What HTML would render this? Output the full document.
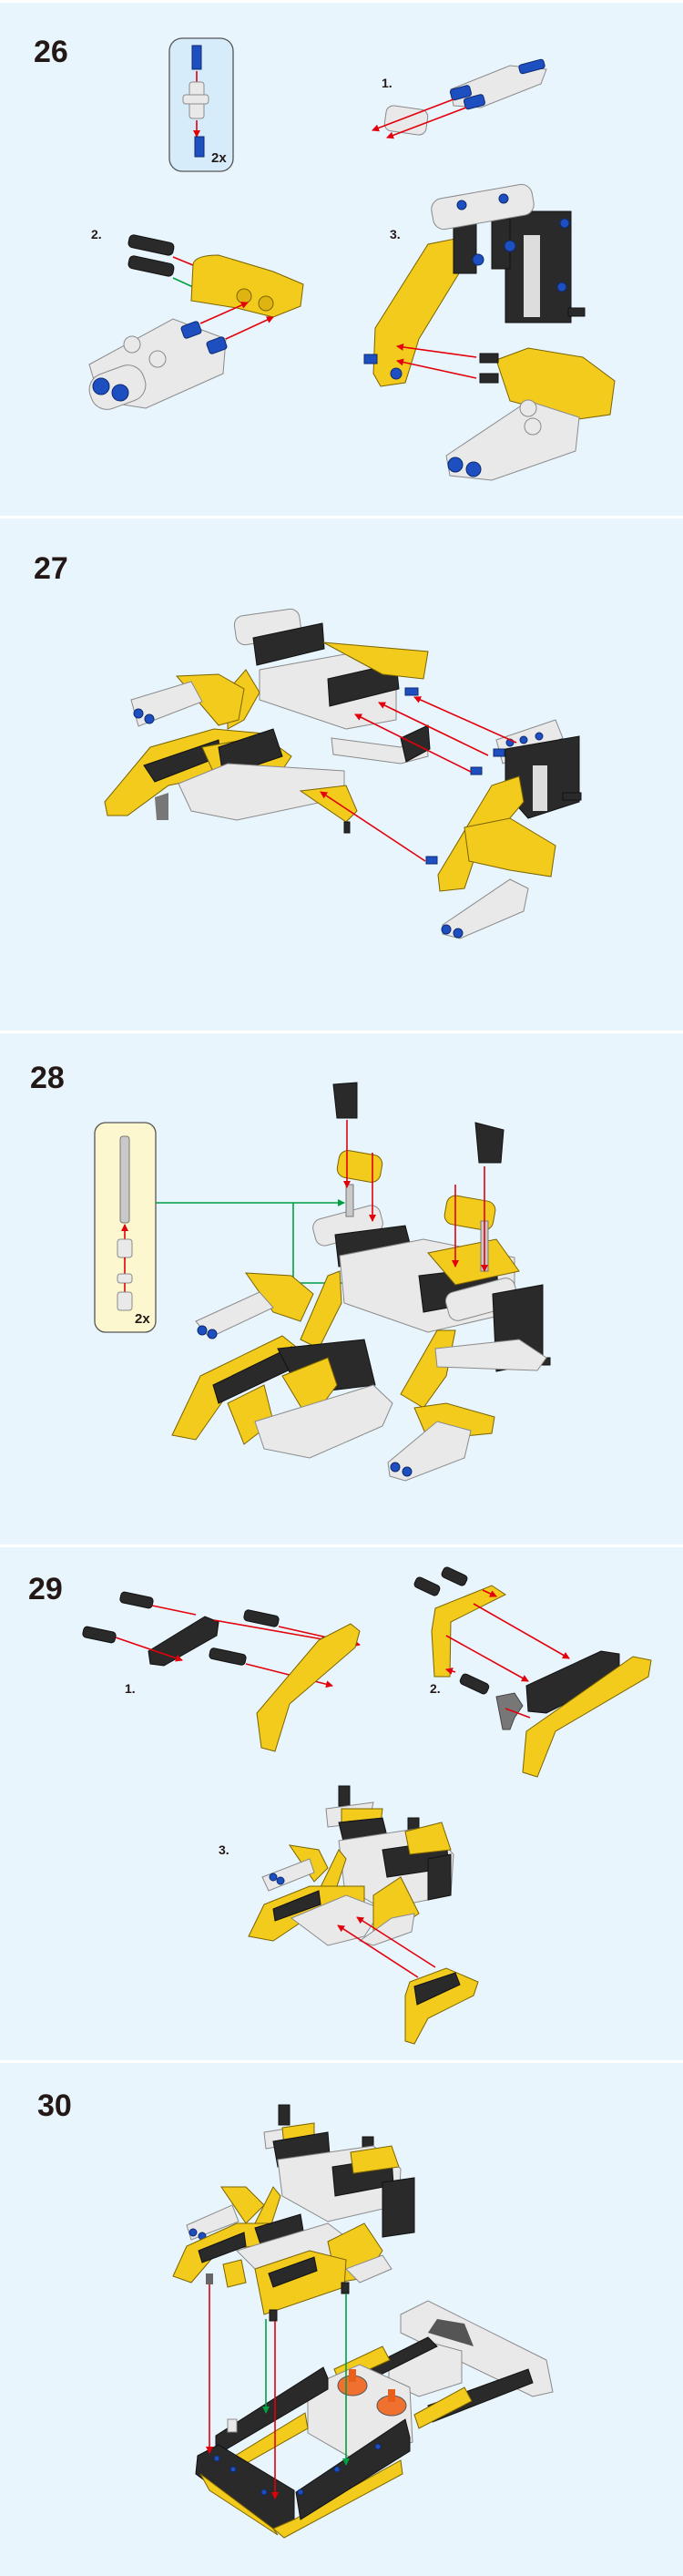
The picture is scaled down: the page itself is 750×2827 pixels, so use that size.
<!DOCTYPE html>
<html><head><meta charset="utf-8"><style>
html,body{margin:0;padding:0;background:#e9f5fd}
svg{display:block}
text{font-family:"Liberation Sans",sans-serif;font-weight:bold;fill:#231815}
.y{fill:#f2cb1d;stroke:#7a6400;stroke-width:1}
.k{fill:#2a2a2a;stroke:#111;stroke-width:1}
.w{fill:#e9e9e9;stroke:#8a8a8a;stroke-width:1}
.g{fill:#c9c9c9;stroke:#777;stroke-width:1}
.b{fill:#1e4fc0;stroke:#0d2a70;stroke-width:1}
.r{stroke:#e3000b;stroke-width:1.6;fill:none}
.gr{stroke:#00a040;stroke-width:1.6;fill:none}
</style></head><body>
<svg width="750" height="2827" viewBox="0 0 750 2827" xmlns="http://www.w3.org/2000/svg">
<defs>
<marker id="ar" markerWidth="8" markerHeight="8" refX="7" refY="4" orient="auto" markerUnits="userSpaceOnUse"><path d="M0,0 L8,4 L0,8z" fill="#e3000b"/></marker>
<marker id="ag" markerWidth="8" markerHeight="8" refX="7" refY="4" orient="auto" markerUnits="userSpaceOnUse"><path d="M0,0 L8,4 L0,8z" fill="#00a040"/></marker>
</defs>
<rect width="750" height="2827" fill="#e9f5fd"/>
<rect y="0" width="750" height="3" fill="#fff"/>
<rect y="566" width="750" height="3" fill="#fff"/>
<rect y="1131" width="750" height="3" fill="#fff"/>
<rect y="1695" width="750" height="3" fill="#fff"/>
<rect y="2261" width="750" height="3" fill="#fff"/>

<!-- STEP 26 -->
<text x="37" y="68" font-size="34">26</text>
<rect x="186" y="42" width="70" height="146" rx="14" fill="#d6ecfa" stroke="#555" stroke-width="1.3"/>
<rect x="211" y="50" width="10" height="26" class="b"/>
<line x1="216" y1="78" x2="216" y2="90" class="r"/>
<rect x="208" y="90" width="16" height="40" rx="3" class="w"/>
<rect x="201" y="104" width="28" height="10" rx="3" class="w"/>
<line x1="216" y1="132" x2="216" y2="150" class="r" marker-end="url(#ar)"/>
<rect x="214" y="150" width="10" height="22" class="b"/>
<text x="232" y="178" font-size="15">2x</text>

<text x="419" y="96" font-size="14">1.</text>
<rect x="423" y="118" width="46" height="28" rx="8" class="w" transform="rotate(8 446 132)"/>
<polygon points="495,98 560,72 600,76 594,92 528,118 498,116" class="w"/>
<rect x="495" y="96" width="22" height="12" rx="3" class="b" transform="rotate(-15 505 102)"/>
<rect x="510" y="106" width="22" height="12" rx="3" class="b" transform="rotate(-15 520 112)"/>
<rect x="570" y="68" width="28" height="10" rx="3" class="b" transform="rotate(-15 584 73)"/>
<line x1="498" y1="109" x2="409" y2="143" class="r" marker-end="url(#ar)"/>
<line x1="512" y1="118" x2="425" y2="151" class="r" marker-end="url(#ar)"/>

<text x="100" y="262" font-size="14">2.</text>
<rect x="141" y="262" width="50" height="14" rx="5" class="k" transform="rotate(12 166 269)"/>
<rect x="141" y="285" width="50" height="14" rx="5" class="k" transform="rotate(12 166 292)"/>
<line x1="190" y1="282" x2="212" y2="291" class="r"/>
<line x1="190" y1="305" x2="245" y2="330" class="gr" marker-end="url(#ag)"/>
<path d="M212,290 Q214,280 240,280 L300,298 L333,312 L330,336 L300,348 L260,338 L210,330 Z" class="y"/>
<circle cx="268" cy="325" r="8" fill="#e0b410" stroke="#7a6400"/>
<circle cx="292" cy="333" r="8" fill="#e0b410" stroke="#7a6400"/>
<path d="M98,400 L190,350 L248,372 L245,410 L160,448 L110,440 Z" class="w"/>
<rect x="98" y="405" width="62" height="40" rx="18" class="w" transform="rotate(-20 129 425)"/>
<circle cx="111" cy="424" r="9" class="b"/><circle cx="132" cy="431" r="9" class="b"/>
<circle cx="145" cy="378" r="9" class="w"/><circle cx="173" cy="394" r="9" class="w"/>
<rect x="200" y="355" width="20" height="14" rx="3" class="b" transform="rotate(-20 210 362)"/>
<rect x="228" y="372" width="20" height="14" rx="3" class="b" transform="rotate(-20 238 379)"/>
<line x1="220" y1="355" x2="272" y2="332" class="r" marker-end="url(#ar)"/>
<line x1="248" y1="372" x2="300" y2="348" class="r" marker-end="url(#ar)"/>

<text x="428" y="262" font-size="14">3.</text>
<path d="M412,360 L470,268 L500,262 L515,282 L460,372 L445,420 L418,424 L410,410 Z" class="y"/>
<rect x="555" y="232" width="72" height="122" class="k"/>
<rect x="575" y="258" width="18" height="90" fill="#ddd"/>
<rect x="498" y="240" width="25" height="60" class="k"/>
<rect x="540" y="240" width="20" height="55" class="k"/>
<rect x="474" y="210" width="112" height="34" rx="12" class="w" transform="rotate(-10 530 227)"/>
<circle cx="507" cy="225" r="5" class="b"/><circle cx="553" cy="218" r="5" class="b"/>
<circle cx="525" cy="285" r="6" class="b"/><circle cx="560" cy="270" r="6" class="b"/>
<circle cx="620" cy="245" r="5" class="b"/><circle cx="617" cy="315" r="5" class="b"/>
<rect x="624" y="338" width="18" height="9" class="k"/>
<path d="M545,395 L580,382 L640,392 L675,418 L670,455 L635,460 L560,440 Z" class="y"/>
<rect x="527" y="388" width="20" height="10" class="k"/><rect x="527" y="410" width="20" height="10" class="k"/>
<path d="M490,500 L580,440 L636,458 L632,495 L540,527 L494,522 Z" class="w"/>
<circle cx="500" cy="510" r="8" class="b"/><circle cx="520" cy="515" r="8" class="b"/>
<circle cx="580" cy="448" r="9" class="w"/><circle cx="585" cy="468" r="9" class="w"/>
<line x1="523" y1="392" x2="436" y2="380" class="r" marker-end="url(#ar)"/>
<line x1="523" y1="415" x2="436" y2="396" class="r" marker-end="url(#ar)"/>
<circle cx="435" cy="410" r="6" class="b"/><rect x="400" y="389" width="14" height="10" class="b"/>

<!-- STEP 27 -->
<text x="37" y="635" font-size="34">27</text>
<rect x="258" y="672" width="72" height="32" rx="10" class="w" transform="rotate(-8 294 688)"/>
<path d="M278,700 L354,684 L356,712 L282,730 Z" class="k"/>
<path d="M285,735 L395,715 L435,740 L435,790 L380,800 L285,768 Z" class="w"/>
<path d="M360,745 L435,728 L438,756 L362,775 Z" class="k"/>
<path d="M355,705 L470,715 L465,745 L420,740 Z" class="y"/>
<path d="M250,758 L270,735 L285,760 L268,790 L250,800 Z" class="y"/>
<path d="M194,742 L240,740 L268,756 L262,790 L240,796 Z" class="y"/>
<path d="M144,768 L210,748 L222,770 L152,797 Z" class="w"/>
<circle cx="152" cy="783" r="5" class="b"/><circle cx="164" cy="789" r="5" class="b"/>
<path d="M115,880 L165,820 L235,800 L290,805 L290,840 L185,862 L140,895 L118,895 Z" class="y"/>
<path d="M158,840 L240,812 L242,830 L170,858 Z" class="k"/>
<path d="M222,820 L290,808 L320,830 L300,860 L240,860 Z" class="y"/>
<path d="M240,820 L300,800 L310,830 L245,852 Z" class="k"/>
<path d="M196,860 L250,838 L378,846 L378,875 L260,900 L210,890 Z" class="w"/>
<path d="M330,868 L380,862 L392,890 L380,902 Z" class="y"/>
<rect x="378" y="902" width="6" height="12" class="k"/>
<path d="M170,875 L185,870 L185,900 L172,900 Z" fill="#777"/>
<path d="M364,810 L440,820 L468,800 L470,830 L440,838 L366,828 Z" class="w"/>
<path d="M440,810 L470,796 L472,822 L446,836 Z" class="k"/>
<path d="M545,812 L610,790 L618,810 L552,838 Z" class="w"/>
<path d="M555,822 L636,808 L636,880 L580,898 L555,870 Z" class="k"/>
<rect x="585" y="840" width="16" height="50" fill="#ddd"/>
<rect x="618" y="870" width="20" height="8" class="k"/>
<path d="M481,960 L540,862 L570,852 L575,880 L520,945 L510,975 L483,978 Z" class="y"/>
<path d="M510,908 L560,898 L610,928 L605,962 L560,955 L515,945 Z" class="y"/>
<path d="M486,1015 L560,965 L580,975 L575,1000 L505,1030 L486,1025 Z" class="w"/>
<circle cx="490" cy="1020" r="5" class="b"/><circle cx="503" cy="1024" r="5" class="b"/>
<circle cx="560" cy="815" r="4" class="b"/><circle cx="575" cy="812" r="4" class="b"/><circle cx="592" cy="808" r="4" class="b"/>
<rect x="445" y="755" width="14" height="8" class="b"/><rect x="542" y="822" width="12" height="8" class="b"/><rect x="517" y="842" width="12" height="8" class="b"/><rect x="468" y="940" width="12" height="8" class="b"/>
<line x1="567" y1="815" x2="455" y2="765" class="r" marker-end="url(#ar)"/>
<line x1="536" y1="829" x2="416" y2="771" class="r" marker-end="url(#ar)"/>
<line x1="517" y1="847" x2="390" y2="784" class="r" marker-end="url(#ar)"/>
<line x1="467" y1="945" x2="352" y2="869" class="r" marker-end="url(#ar)"/>

<!-- STEP 28 -->
<text x="33" y="1194" font-size="34">28</text>
<rect x="104" y="1232" width="67" height="230" rx="12" fill="#fdf7cf" stroke="#555" stroke-width="1.3"/>
<rect x="132" y="1247" width="10" height="95" rx="3" class="g"/>
<line x1="137" y1="1382" x2="137" y2="1344" class="r" marker-end="url(#ar)"/>
<rect x="129" y="1360" width="16" height="20" rx="3" class="w"/>
<line x1="137" y1="1380" x2="137" y2="1400" class="r"/>
<rect x="129" y="1398" width="16" height="10" rx="3" class="w"/>
<line x1="137" y1="1408" x2="137" y2="1418" class="r"/>
<rect x="129" y="1418" width="16" height="20" rx="3" class="w"/>
<text x="148" y="1452" font-size="15">2x</text>
<polyline points="171,1320 378,1320" class="gr" marker-end="url(#ag)"/>
<polyline points="322,1320 322,1408 526,1408" class="gr" marker-end="url(#ag)"/>
<path d="M366,1190 L392,1188 L392,1227 L370,1227 Z" class="k"/>
<rect x="371" y="1265" width="48" height="30" rx="10" class="y" transform="rotate(10 395 1280)"/>
<path d="M522,1232 L553,1240 L550,1276 L526,1276 Z" class="k"/>
<rect x="489" y="1315" width="54" height="32" rx="10" class="y" transform="rotate(10 516 1331)"/>
<rect x="344" y="1330" width="76" height="30" rx="10" class="w" transform="rotate(-15 382 1345)"/>
<path d="M368,1355 L445,1345 L452,1372 L372,1390 Z" class="k"/>
<path d="M373,1378 L465,1360 L565,1380 L565,1440 L470,1462 L378,1430 Z" class="w"/>
<path d="M460,1400 L545,1390 L548,1425 L465,1440 Z" class="k"/>
<path d="M470,1375 L545,1360 L570,1395 L500,1410 Z" class="y"/>
<rect x="490" y="1410" width="78" height="32" rx="10" class="w" transform="rotate(-15 529 1426)"/>
<path d="M541,1420 L596,1410 L596,1495 L545,1505 Z" class="k"/>
<rect x="590" y="1490" width="14" height="8" class="k"/>
<rect x="380" y="1300" width="8" height="35" class="g"/><rect x="528" y="1340" width="8" height="55" class="g"/>
<path d="M270,1397 L320,1400 L344,1420 L330,1450 L300,1440 Z" class="y"/>
<path d="M215,1450 L285,1418 L300,1435 L230,1468 Z" class="w"/>
<circle cx="222" cy="1460" r="5" class="b"/><circle cx="233" cy="1464" r="5" class="b"/>
<path d="M330,1470 L360,1400 L373,1395 L375,1430 L350,1480 Z" class="y"/>
<path d="M189,1575 L220,1510 L310,1466 L325,1478 L325,1500 L250,1530 L215,1580 Z" class="y"/>
<path d="M234,1520 L320,1478 L325,1500 L240,1540 Z" class="k"/>
<path d="M250,1540 L290,1520 L300,1560 L268,1585 Z" class="y"/>
<path d="M305,1480 L400,1470 L412,1520 L330,1530 Z" class="k"/>
<path d="M310,1510 L360,1490 L370,1520 L340,1560 Z" class="y"/>
<path d="M280,1560 L410,1520 L431,1540 L420,1565 L340,1600 L290,1590 Z" class="w"/>
<path d="M440,1530 L480,1460 L500,1460 L490,1510 L465,1545 Z" class="y"/>
<path d="M455,1545 L490,1540 L543,1555 L540,1573 L470,1580 Z" class="y"/>
<path d="M426,1605 L480,1560 L517,1570 L510,1600 L445,1625 L428,1620 Z" class="w"/>
<circle cx="434" cy="1610" r="5" class="b"/><circle cx="447" cy="1615" r="5" class="b"/>
<path d="M478,1480 L570,1470 L600,1490 L590,1504 L480,1500 Z" class="w"/>
<line x1="381" y1="1229" x2="381" y2="1303" class="r" marker-end="url(#ar)"/>
<line x1="409" y1="1265" x2="409" y2="1340" class="r" marker-end="url(#ar)"/>
<line x1="500" y1="1300" x2="500" y2="1390" class="r" marker-end="url(#ar)"/>
<line x1="532" y1="1280" x2="532" y2="1395" class="r" marker-end="url(#ar)"/>

<!-- STEP 29 -->
<text x="31" y="1755" font-size="34">29</text>
<rect x="132" y="1750" width="36" height="12" rx="4" class="k" transform="rotate(12 150 1756)"/>
<rect x="268" y="1770" width="38" height="12" rx="4" class="k" transform="rotate(12 287 1776)"/>
<rect x="91" y="1788" width="36" height="12" rx="4" class="k" transform="rotate(12 109 1794)"/>
<rect x="230" y="1812" width="40" height="12" rx="4" class="k" transform="rotate(12 250 1818)"/>
<path d="M163,1812 L225,1774 L240,1780 L238,1795 L180,1828 L165,1826 Z" class="k"/>
<line x1="167" y1="1762" x2="215" y2="1772" class="r"/>
<line x1="235" y1="1778" x2="360" y2="1800" class="r" marker-end="url(#ar)"/>
<line x1="306" y1="1785" x2="395" y2="1805" class="r" marker-end="url(#ar)"/>
<line x1="127" y1="1797" x2="200" y2="1822" class="r" marker-end="url(#ar)"/>
<line x1="270" y1="1826" x2="365" y2="1850" class="r" marker-end="url(#ar)"/>
<path d="M287,1918 L282,1880 L350,1800 L385,1782 L395,1790 L390,1808 L318,1870 L302,1922 Z" class="y"/>
<text x="137" y="1858" font-size="14">1.</text>

<rect x="455" y="1735" width="28" height="12" rx="4" class="k" transform="rotate(25 469 1741)"/>
<rect x="485" y="1724" width="28" height="12" rx="4" class="k" transform="rotate(25 499 1730)"/>
<path d="M474,1790 L478,1765 L540,1740 L555,1750 L495,1780 L494,1840 L477,1840 Z" class="y"/>
<line x1="490" y1="1795" x2="580" y2="1845" class="r" marker-end="url(#ar)"/>
<line x1="520" y1="1760" x2="625" y2="1820" class="r" marker-end="url(#ar)"/>
<line x1="530" y1="1745" x2="545" y2="1752" class="r" marker-end="url(#ar)"/>
<path d="M578,1850 L660,1812 L680,1815 L680,1840 L600,1880 L580,1878 Z" class="k"/>
<path d="M574,1945 L578,1900 L695,1818 L715,1822 L712,1840 L610,1900 L590,1950 Z" class="y"/>
<rect x="505" y="1842" width="32" height="12" rx="4" class="k" transform="rotate(25 521 1848)"/>
<line x1="500" y1="1835" x2="490" y2="1832" class="r" marker-end="url(#ar)"/>
<path d="M545,1862 L565,1858 L574,1872 L565,1885 L560,1898 L552,1898 Z" fill="#777" stroke="#444"/>
<line x1="555" y1="1875" x2="582" y2="1885" class="r"/>
<text x="472" y="1858" font-size="14">2.</text>

<text x="240" y="2035" font-size="14">3.</text>
<rect x="372" y="1960" width="12" height="22" class="k"/>
<rect x="448" y="1995" width="12" height="20" class="k"/>
<path d="M358,1985 L410,1978 L405,2000 L360,2005 Z" class="w"/>
<path d="M375,1985 L420,1985 L418,2002 L375,2010 Z" class="y"/>
<path d="M372,2000 L420,1995 L425,2015 L378,2025 Z" class="k"/>
<path d="M372,2020 L470,2005 L498,2035 L495,2080 L420,2095 L378,2070 Z" class="w"/>
<path d="M420,2030 L490,2020 L493,2050 L425,2060 Z" class="k"/>
<path d="M445,2010 L485,2000 L495,2030 L450,2035 Z" class="y"/>
<path d="M470,2040 L495,2035 L495,2080 L470,2085 Z" class="k"/>
<path d="M318,2025 L350,2030 L360,2050 L345,2065 Z" class="y"/>
<path d="M288,2060 L340,2040 L345,2055 L295,2075 Z" class="w"/>
<path d="M350,2075 L372,2030 L380,2040 L365,2085 Z" class="y"/>
<path d="M273,2125 L290,2090 L340,2070 L400,2070 L400,2100 L330,2110 L300,2130 Z" class="y"/>
<path d="M300,2095 L350,2075 L352,2090 L302,2108 Z" class="k"/>
<path d="M320,2105 L380,2080 L420,2095 L400,2125 L360,2135 Z" class="w"/>
<path d="M410,2080 L440,2060 L460,2100 L430,2120 L410,2120 Z" class="y"/>
<path d="M395,2130 L430,2105 L455,2100 L452,2120 L410,2135 Z" class="w"/>
<circle cx="300" cy="2060" r="4" class="b"/><circle cx="308" cy="2064" r="4" class="b"/>
<line x1="459" y1="2170" x2="371" y2="2113" class="r" marker-end="url(#ar)"/>
<line x1="478" y1="2159" x2="392" y2="2104" class="r" marker-end="url(#ar)"/>
<path d="M445,2190 L450,2175 L490,2160 L525,2175 L520,2190 L470,2215 L455,2243 L445,2240 Z" class="y"/>
<path d="M455,2180 L500,2165 L505,2178 L458,2200 Z" class="k"/>

<!-- STEP 30 -->
<text x="41" y="2322" font-size="34">30</text>
<rect x="306" y="2310" width="12" height="22" class="k"/>
<rect x="398" y="2345" width="12" height="22" class="k"/>
<path d="M290,2340 L340,2332 L340,2350 L292,2358 Z" class="w"/>
<path d="M310,2335 L345,2330 L345,2350 L312,2355 Z" class="y"/>
<path d="M300,2350 L360,2340 L362,2365 L305,2378 Z" class="k"/>
<path d="M305,2370 L410,2355 L440,2380 L438,2420 L360,2438 L310,2410 Z" class="w"/>
<path d="M365,2378 L430,2368 L432,2398 L368,2410 Z" class="k"/>
<path d="M385,2362 L430,2355 L438,2378 L388,2385 Z" class="y"/>
<path d="M420,2395 L455,2390 L455,2450 L420,2455 Z" class="k"/>
<path d="M243,2400 L270,2400 L290,2420 L270,2440 Z" class="y"/>
<path d="M205,2442 L255,2420 L262,2438 L210,2458 Z" class="w"/>
<circle cx="212" cy="2450" r="4" class="b"/><circle cx="222" cy="2454" r="4" class="b"/>
<path d="M280,2440 L300,2400 L308,2410 L295,2450 Z" class="y"/>
<path d="M190,2498 L205,2465 L260,2440 L300,2440 L300,2462 L240,2470 L210,2505 Z" class="y"/>
<path d="M218,2470 L268,2450 L270,2465 L222,2483 Z" class="k"/>
<path d="M280,2445 L330,2430 L335,2460 L290,2475 Z" class="k"/>
<path d="M260,2470 L360,2440 L400,2470 L380,2500 L300,2510 Z" class="w"/>
<path d="M360,2460 L400,2440 L420,2470 L400,2500 L370,2505 Z" class="y"/>
<path d="M280,2490 L340,2470 L380,2480 L378,2510 L290,2540 Z" class="y"/>
<path d="M295,2495 L345,2477 L348,2492 L300,2510 Z" class="k"/>
<path d="M380,2490 L420,2475 L430,2490 L395,2505 Z" class="w"/>
<path d="M245,2485 L265,2480 L270,2505 L250,2510 Z" class="y"/>
<rect x="226" y="2495" width="8" height="12" fill="#666"/>
<rect x="296" y="2535" width="8" height="12" class="k"/>
<rect x="375" y="2505" width="8" height="12" class="k"/>
<!-- chassis -->
<path d="M440,2540 L470,2525 L600,2590 L607,2625 L585,2630 L440,2560 Z" class="w"/>
<path d="M470,2560 L480,2545 L510,2550 L520,2575 Z" fill="#555"/>
<path d="M427,2590 L470,2570 L507,2580 L507,2615 L460,2630 L427,2615 Z" class="w"/>
<path d="M400,2600 L470,2565 L480,2575 L410,2610 Z" class="k"/>
<path d="M470,2640 L580,2600 L585,2615 L475,2658 Z" class="k"/>
<path d="M367,2600 L420,2575 L428,2590 L373,2615 Z" class="y"/>
<path d="M455,2650 L510,2620 L518,2635 L460,2665 Z" class="y"/>
<path d="M338,2620 L395,2595 L450,2620 L453,2680 L390,2700 L338,2670 Z" class="w"/>
<ellipse cx="387" cy="2618" rx="16" ry="11" fill="#f07030" stroke="#555"/>
<ellipse cx="430" cy="2640" rx="16" ry="11" fill="#f07030" stroke="#555"/>
<rect x="383" y="2600" width="8" height="14" fill="#e8601a"/>
<rect x="426" y="2622" width="8" height="14" fill="#e8601a"/>
<path d="M237,2673 L355,2598 L360,2610 L360,2622 L245,2690 L237,2690 Z" class="k"/>
<path d="M250,2700 L335,2648 L338,2665 L255,2712 Z" class="y"/>
<path d="M217,2695 L240,2683 L323,2733 L323,2765 L300,2778 L215,2715 Z" class="k"/>
<path d="M220,2715 L300,2775 L305,2782 L230,2733 Z" class="y"/>
<path d="M300,2775 L323,2765 L440,2700 L442,2715 L312,2785 Z" class="y"/>
<path d="M325,2735 L445,2655 L450,2675 L450,2690 L330,2765 Z" class="k"/>
<circle cx="238" cy="2698" r="3" class="b"/><circle cx="256" cy="2710" r="3" class="b"/><circle cx="290" cy="2735" r="3" class="b"/>
<circle cx="330" cy="2735" r="3" class="b"/><circle cx="370" cy="2710" r="3" class="b"/><circle cx="415" cy="2685" r="3" class="b"/>
<rect x="250" y="2655" width="10" height="14" class="w"/>
<line x1="230" y1="2507" x2="230" y2="2692" class="r" marker-end="url(#ar)"/>
<line x1="292" y1="2545" x2="292" y2="2648" class="gr" marker-end="url(#ag)"/>
<line x1="302" y1="2547" x2="302" y2="2742" class="r" marker-end="url(#ar)"/>
<line x1="380" y1="2517" x2="380" y2="2705" class="gr" marker-end="url(#ag)"/>
</svg>
</body></html>
